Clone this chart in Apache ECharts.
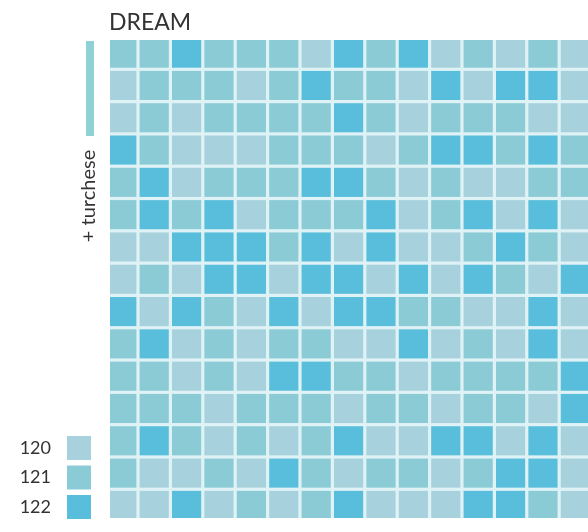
<!DOCTYPE html>
<html><head><meta charset="utf-8">
<script src="https://cdn.jsdelivr.net/npm/echarts@6/dist/echarts.min.js"></script>
<style>html,body{margin:0;padding:0;background:#fff}#c{width:588px;height:532px}</style>
</head><body><div id="c"></div>
<script>
// Tile codes and their colours (legend)
const tileCodes = [120, 121, 122];
const tileColors = ['#a7d2dd', '#8acbd6', '#59bedb'];
const sideNote = '+ turchese';
const titleText = 'DREAM';

// Mosaic layout: each row lists the tile code of its 15 cells, left to right
const row00 = [121,121,122,121,121,121,120,122,121,122,120,121,120,121,120];
const row01 = [120,121,121,121,120,121,122,121,121,120,122,120,122,122,120];
const row02 = [120,121,120,121,121,121,121,122,121,120,121,121,121,120,120];
const row03 = [122,121,120,120,120,121,121,121,120,121,122,122,121,122,121];
const row04 = [121,122,120,121,121,121,122,122,121,120,121,120,120,121,121];
const row05 = [121,122,121,122,120,121,121,121,122,120,121,122,120,122,120];
const row06 = [120,120,122,122,122,121,122,120,122,120,120,121,122,121,120];
const row07 = [120,121,120,122,122,120,122,122,120,122,120,122,121,120,122];
const row08 = [122,120,122,121,120,122,120,122,122,121,121,120,120,122,120];
const row09 = [121,122,120,121,120,121,121,120,120,122,120,121,120,122,120];
const row10 = [121,121,120,121,120,122,122,121,121,120,121,121,121,121,122];
const row11 = [121,121,121,120,121,121,121,120,121,121,120,121,121,120,122];
const row12 = [121,122,121,120,121,120,121,122,120,120,122,122,120,122,120];
const row13 = [121,120,120,121,120,122,121,120,121,121,120,121,122,122,120];
const row14 = [120,120,122,120,121,120,121,122,120,120,120,122,122,121,120];
const mosaicRows = [row00,row01,row02,row03,row04,row05,row06,row07,row08,row09,row10,row11,row12,row13,row14];

const cells = [];
mosaicRows.forEach((row, r) => row.forEach((code, c) => cells.push([c, r, code])));

const chart = echarts.init(document.getElementById('c'), null, {renderer: 'canvas'});
const GAP = 3.2;
function renderItem(params, api) {
  const p = api.coord([api.value(0), api.value(1)]);
  const s = api.size([1, 1]);
  return {
    type: 'rect',
    shape: {x: p[0] + GAP / 2, y: p[1] + GAP / 2, width: s[0] - GAP, height: s[1] - GAP},
    style: {fill: api.visual('color')}
  };
}

chart.setOption({
  backgroundColor: '#ffffff',
  animation: false,
  title: {
    text: titleText, left: 104, top: 6,
    textStyle: {fontFamily: 'Lato', fontWeight: 'normal', fontSize: 23, color: '#333333'}
  },
  grid: {left: 110, right: 0, top: 40, bottom: 14, show: true, backgroundColor: '#dff2f5', borderWidth: 0},
  xAxis: {type: 'value', min: 0.136, max: 14.89, show: false},
  yAxis: {type: 'value', min: 0.093, max: 14.89, inverse: true, show: false},
  visualMap: {
    type: 'piecewise', dimension: 2, orient: 'vertical', inverse: true,
    pieces: tileCodes.map((v, i) => ({value: v, label: String(v), color: tileColors[i]})),
    itemWidth: 24, itemHeight: 24, itemGap: 5.5, itemSymbol: 'rect',
    align: 'right', textGap: 16, selectedMode: false, padding: 0,
    right: 497, top: 436,
    textStyle: {fontFamily: 'Lato', fontSize: 18, color: '#333333'}
  },
  graphic: [
    {type: 'rect', left: 86, top: 41, shape: {width: 8, height: 95}, style: {fill: '#90d1d5'}},
    {type: 'text', x: 89, y: 196, rotation: Math.PI / 2,
     style: {text: sideNote, fontFamily: 'Lato', fontSize: 20, fill: '#333333', align: 'center', verticalAlign: 'middle'}}
  ],
  series: [{
    type: 'custom', renderItem: renderItem, clip: true,
    encode: {x: 0, y: 1},
    data: cells
  }]
});
</script></body></html>
